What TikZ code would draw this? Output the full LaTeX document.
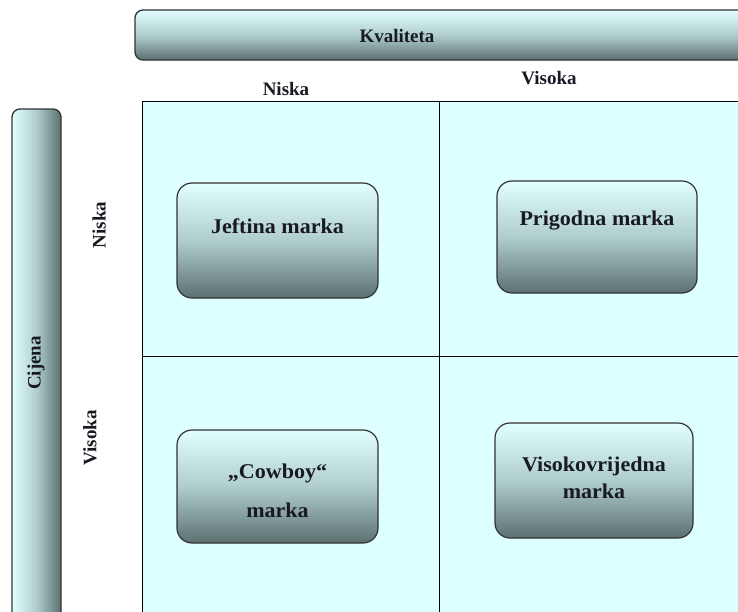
\documentclass[tikz,border=0pt]{standalone}
\usepackage{fontspec}
\setmainfont{Liberation Serif}
\definecolor{topc}{RGB}{226,255,255}
\definecolor{botc}{RGB}{92,112,112}
\definecolor{gridc}{RGB}{222,255,255}
\definecolor{edgec}{RGB}{50,50,50}
\definecolor{txt}{RGB}{25,25,35}
\tikzset{
  bar/.style={draw=edgec, line width=1.3pt, rounded corners=8pt},
  mbox/.style={draw=edgec, line width=1.2pt, rounded corners=15pt, top color=topc, bottom color=botc, middle color={rgb,255:red,175;green,205;blue,205}},
  lbl/.style={font=\bfseries\fontsize{19}{22}\selectfont, text=txt},
  btxt/.style={font=\bfseries\fontsize{21}{27}\selectfont, text=txt, align=center, xscale=1.05, transform shape},
}
\begin{document}
\begin{tikzpicture}[x=1pt,y=-1pt]
\useasboundingbox (0,0) rectangle (738,611);
\begin{scope}
\clip (0,0) rectangle (738,611);
% top bar
\shade[bar, top color=topc, bottom color=botc, middle color={rgb,255:red,175;green,205;blue,205}] (135,10) rectangle (760,60);
\node[lbl] (kval) at (397,36) {Kvaliteta};
% left bar
\shade[bar, left color=topc, right color=botc, middle color={rgb,255:red,175;green,205;blue,205}] (12,109) rectangle (61,640);
\node[lbl, rotate=90] (cij) at (36,363) {Cijena};
% grid
\draw[fill=gridc, line width=1pt] (142,101) rectangle (760,640);
\coordinate (vt) at (439,101);
\coordinate (vb) at (439,640);
\coordinate (hl) at (142,356);
\coordinate (hr) at (760,356);
\draw[line width=1pt] (vt) -- (vb);
\draw[line width=1pt] (hl) -- (hr);
\end{scope}
% axis labels
\node[lbl] (qlow) at (286,89) {Niska};
\node[lbl] (qhigh) at (549,78) {Visoka};
\node[lbl, rotate=90] (plow) at (99,225) {Niska};
\node[lbl, rotate=90] (phigh) at (90,438) {Visoka};
% boxes
\node[mbox, minimum width=201pt, minimum height=115pt] (b1) at (277.5,240.5) {};
\node[btxt] (t1) at (277.5,226) {Jeftina marka};
\node[mbox, minimum width=200pt, minimum height=112pt] (b2) at (597,237) {};
\node[btxt] (t2) at (597,221) {Prigodna marka};
\node[mbox, minimum width=201pt, minimum height=113pt] (b3) at (277.5,486.5) {};
\node[btxt] (t3) at (277.5,491) {„Cowboy“\\[12pt]marka};
\node[mbox, minimum width=198pt, minimum height=115pt] (b4) at (594,480.5) {};
\node[btxt] (t4) at (594,478) {Visokovrijedna\\marka};
\end{tikzpicture}
\end{document}
